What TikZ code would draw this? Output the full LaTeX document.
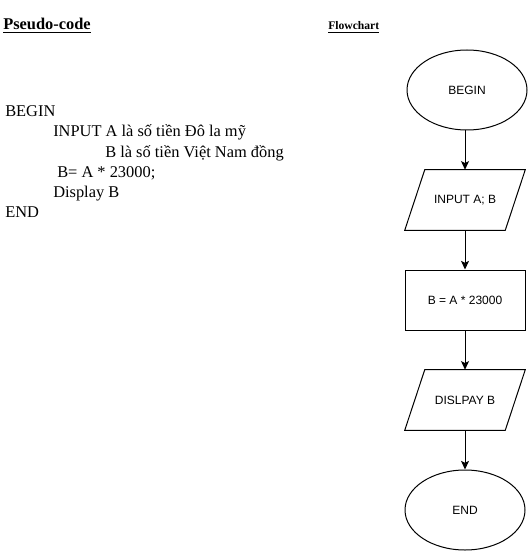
\documentclass[tikz,border=0pt]{standalone}
\usepackage{fontspec}
\setmainfont{Liberation Serif}
\newfontfamily\flowfont{Liberation Sans}
\usetikzlibrary{shapes.geometric,arrows.meta}
\tikzset{
  pcode/.style={anchor=base west,inner sep=0pt,font=\fontsize{12.3pt}{14pt}\selectfont},
  flownode/.style={draw,line width=0.75pt,inner sep=0pt,font=\flowfont\fontsize{9pt}{11pt}\selectfont,minimum width=90pt,minimum height=45pt},
  termnode/.style={flownode,ellipse,minimum height=60pt},
  iobox/.style={inner sep=0pt,font=\flowfont\fontsize{9pt}{11pt}\selectfont,minimum width=90pt,minimum height=45pt},
  flowarrow/.style={line width=0.75pt,-{Stealth[length=6.5pt,width=6pt,inset=1.5pt]}},
  ioline/.style={line width=0.75pt,line join=miter}
}
\begin{document}
\begin{tikzpicture}[x=0.75pt,y=-0.75pt]
\useasboundingbox (0,0) rectangle (530,552);
% headings
\node[anchor=base west,inner sep=0pt,font=\bfseries\fontsize{12.3pt}{14pt}\selectfont] (hpc) at (3,30) {\underline{Pseudo-code}};
\node[anchor=base west,inner sep=0pt,font=\bfseries\fontsize{8.7pt}{10pt}\selectfont] (hfc) at (328,30) {\underline{Flowchart}};
% pseudo-code
\node[pcode] (l1) at (5,116.7) {BEGIN};
\node[pcode] (l2) at (53,136.9) {INPUT A là số tiền Đô la mỹ};
\node[pcode] (l3) at (105,157.1) {B là số tiền Việt Nam đồng};
\node[pcode] (l4) at (57,177.3) {B= A * 23000;};
\node[pcode] (l5) at (53,197.5) {Display B};
\node[pcode] (l6) at (5,217.7) {END};
% flowchart
\node[termnode] (begin) at (467,90) {BEGIN};
\node[iobox] (input) at (465,200) {INPUT A; B};
\draw[ioline] ([xshift=15pt]input.north west) -- (input.north east) -- ([xshift=-15pt]input.south east) -- (input.south west) -- cycle;
\node[flownode] (calc) at (465,300) {B = A * 23000};
\node[iobox] (disp) at (465,400) {DISLPAY B};
\draw[ioline] ([xshift=15pt]disp.north west) -- (disp.north east) -- ([xshift=-15pt]disp.south east) -- (disp.south west) -- cycle;
\node[termnode] (end) at (465,510) {END};
% connectors
\draw[flowarrow] (input.north |- begin.south) -- (input.north);
\draw[flowarrow] (input.south) -- (calc.north);
\draw[flowarrow] (calc.south) -- (disp.north);
\draw[flowarrow] (disp.south) -- (end.north);
\end{tikzpicture}
\end{document}
